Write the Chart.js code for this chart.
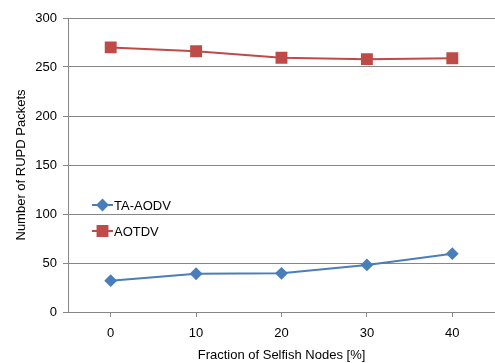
<!DOCTYPE html>
<html>
<head>
<meta charset="utf-8">
<script src="https://cdn.jsdelivr.net/npm/chart.js@4"></script>
<style>
  html, body { margin: 0; padding: 0; background: #fff; }
  #wrap { width: 495px; height: 363px; }
</style>
</head>
<body>
<div id="wrap"><canvas id="chart" width="495" height="363"></canvas></div>
<script>
// data
const categories = ['0', '10', '20', '30', '40'];
const taAodv = [32, 39, 39.5, 48, 59.5];
const aotdv = [270, 266, 259.5, 258, 259];
const yTicks = [0, 50, 100, 150, 200, 250, 300];

const FONT = 'Liberation Sans';
const GRID = '#868686';

// legend drawn inside the plot, like the original
const insideLegend = {
  id: 'insideLegend',
  afterDraw(chart) {
    const ctx = chart.ctx;
    const items = chart.data.datasets;
    ctx.save();
    items.forEach((ds, i) => {
      const y = 205 + i * 26;
      ctx.strokeStyle = ds.borderColor;
      ctx.lineWidth = 2;
      ctx.beginPath();
      ctx.moveTo(92, y);
      ctx.lineTo(113, y);
      ctx.stroke();
      Chart.helpers.drawPoint(ctx, {
        pointStyle: ds.pointStyle,
        radius: ds.pointRadius,
        borderWidth: 1
      }, 102.5, y);
      ctx.fillStyle = ds.pointBackgroundColor;
      ctx.fill();
      ctx.fillStyle = '#000';
      ctx.font = '13px "' + FONT + '"';
      ctx.textBaseline = 'middle';
      ctx.fillText(ds.label, 114, y + 1);
    });
    ctx.restore();
  }
};

const config = {
  type: 'line',
  data: {
    labels: categories,
    datasets: [{
      label: 'TA-AODV',
      data: taAodv,
      borderColor: '#4A7EBB',
      backgroundColor: '#4A7EBB',
      pointBackgroundColor: '#4A7EBB',
      pointBorderColor: '#4A7EBB',
      pointStyle: 'rectRot',
      pointRadius: 5,
      borderWidth: 2,
      tension: 0
    }, {
      label: 'AOTDV',
      data: aotdv,
      borderColor: '#BE4B48',
      backgroundColor: '#BE4B48',
      pointBackgroundColor: '#BE4B48',
      pointBorderColor: '#BE4B48',
      pointStyle: 'rect',
      pointRadius: 7,
      borderWidth: 2,
      tension: 0
    }]
  },
  options: {
    responsive: false,
    animation: false,
    layout: { autoPadding: false, padding: { top: 18, right: 0, left: 0, bottom: 0 } },
    plugins: {
      legend: { display: false },
      tooltip: { enabled: false }
    },
    scales: {
      x: {
        offset: true,
        grid: {
          offset: false,
          drawOnChartArea: false,
          color: GRID,
          tickLength: 5,
          tickColor: GRID
        },
        border: { color: GRID, width: 1 },
        ticks: { color: '#000', font: { family: FONT, size: 13 }, padding: 9 },
        title: {
          display: true,
          text: 'Fraction of Selfish Nodes [%]',
          color: '#000',
          font: { family: FONT, size: 13 },
          padding: { top: 0, bottom: 0 }
        },
        afterFit(scale) {
          scale.height = 51;
          scale.paddingLeft = 0;
          scale.paddingRight = 0;
        }
      },
      y: {
        min: 0,
        max: 300,
        afterBuildTicks(scale) { scale.ticks = yTicks.map(v => ({ value: v })); },
        grid: { color: GRID, tickLength: 5, tickColor: GRID },
        border: { color: GRID, width: 1 },
        ticks: { color: '#000', font: { family: FONT, size: 13 }, padding: 6 },
        title: {
          display: true,
          text: 'Number of RUPD Packets',
          color: '#000',
          font: { family: FONT, size: 13 },
          padding: { top: 14, bottom: 0 }
        },
        afterFit(scale) { scale.width = 68; }
      }
    }
  },
  plugins: [insideLegend]
};

new Chart(document.getElementById('chart'), config);
</script>
</body>
</html>
